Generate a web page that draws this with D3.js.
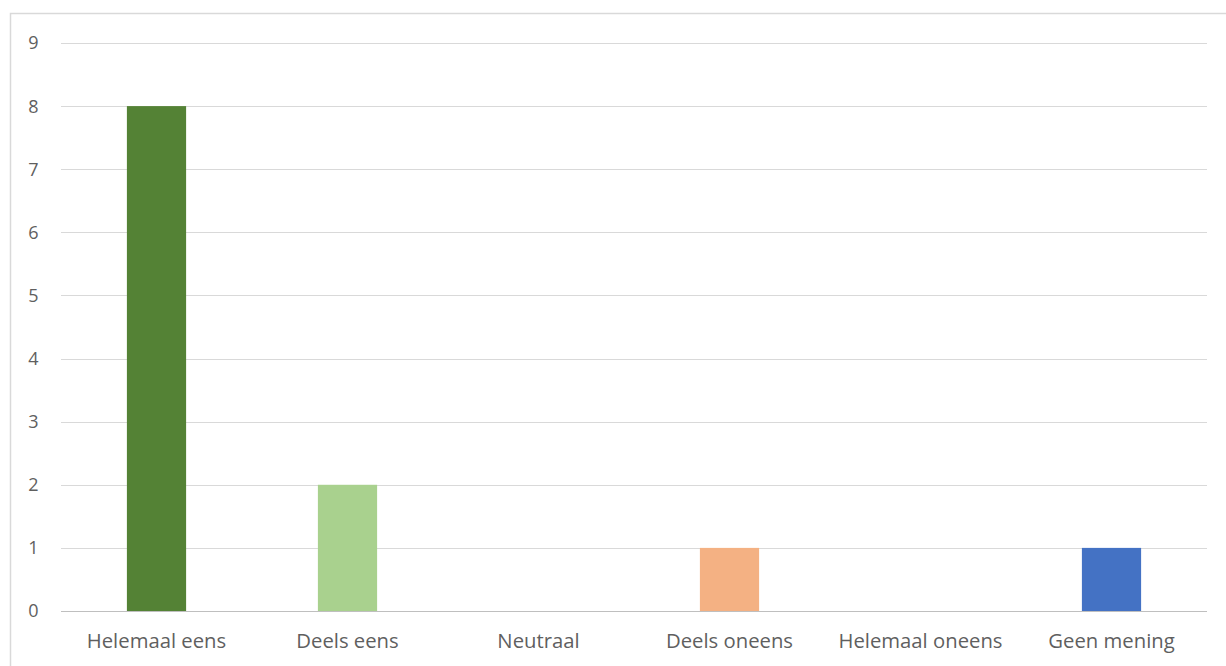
<!DOCTYPE html>
<html><head><meta charset="utf-8">
<script src="https://cdn.jsdelivr.net/npm/d3@7"></script>
<style>body{margin:0;background:#fff;}svg{display:block;}</style>
</head><body>
<script>
const categories = ["Helemaal eens","Deels eens","Neutraal","Deels oneens","Helemaal oneens","Geen mening"];
const values = [8,2,0,1,0,1];
const colors = ["#548235","#A9D18E","#FFC000","#F4B183","#C00000","#4472C4"];
const yTicks = [0,1,2,3,4,5,6,7,8,9];

(function(){
const W = 1226, H = 666;
const svg = d3.select("body").append("svg").attr("width",W).attr("height",H);
svg.append("rect").attr("x",10.5).attr("y",13.5).attr("width",W+10).attr("height",H+10)
  .attr("fill","#fff").attr("stroke","#d9d9d9").attr("stroke-width",1.5);

const mLeft = 61, mRight = 1207, mTop = 43, mBottom = 611;
const x = d3.scaleBand().domain(categories).range([mLeft,mRight]).paddingInner(0.69).paddingOuter(0.345);
const y = d3.scaleLinear().domain([0,9]).range([mBottom,mTop]);

const font = "'Open Sans', Lato, sans-serif";
svg.append("g").selectAll("line").data(yTicks).join("line")
  .attr("x1",mLeft).attr("x2",mRight).attr("y1",d=>Math.round(y(d))+0.5).attr("y2",d=>Math.round(y(d))+0.5)
  .attr("stroke",d=>d===0?"#bfbfbf":"#d9d9d9").attr("stroke-width",1.2);

svg.append("g").selectAll("text").data(yTicks).join("text")
  .attr("x",38.5).attr("y",d=>y(d)).attr("dy","0.36em").attr("text-anchor","end")
  .attr("font-family",font).attr("font-size",18).attr("fill","#5f5f5f").text(d=>d);

svg.append("g").selectAll("rect").data(categories).join("rect")
  .attr("x",d=>x(d)).attr("width",x.bandwidth())
  .attr("y",(d,i)=>y(values[i])).attr("height",(d,i)=>y(0)-y(values[i]))
  .attr("fill",(d,i)=>colors[i]);

svg.append("g").selectAll("text").data(categories).join("text")
  .attr("x",d=>x(d)+x.bandwidth()/2).attr("y",641).attr("dy","0.36em").attr("text-anchor","middle")
  .attr("font-family",font).attr("font-size",20.3).attr("fill","#5f5f5f").text(d=>d);
})();
</script>
</body></html>
